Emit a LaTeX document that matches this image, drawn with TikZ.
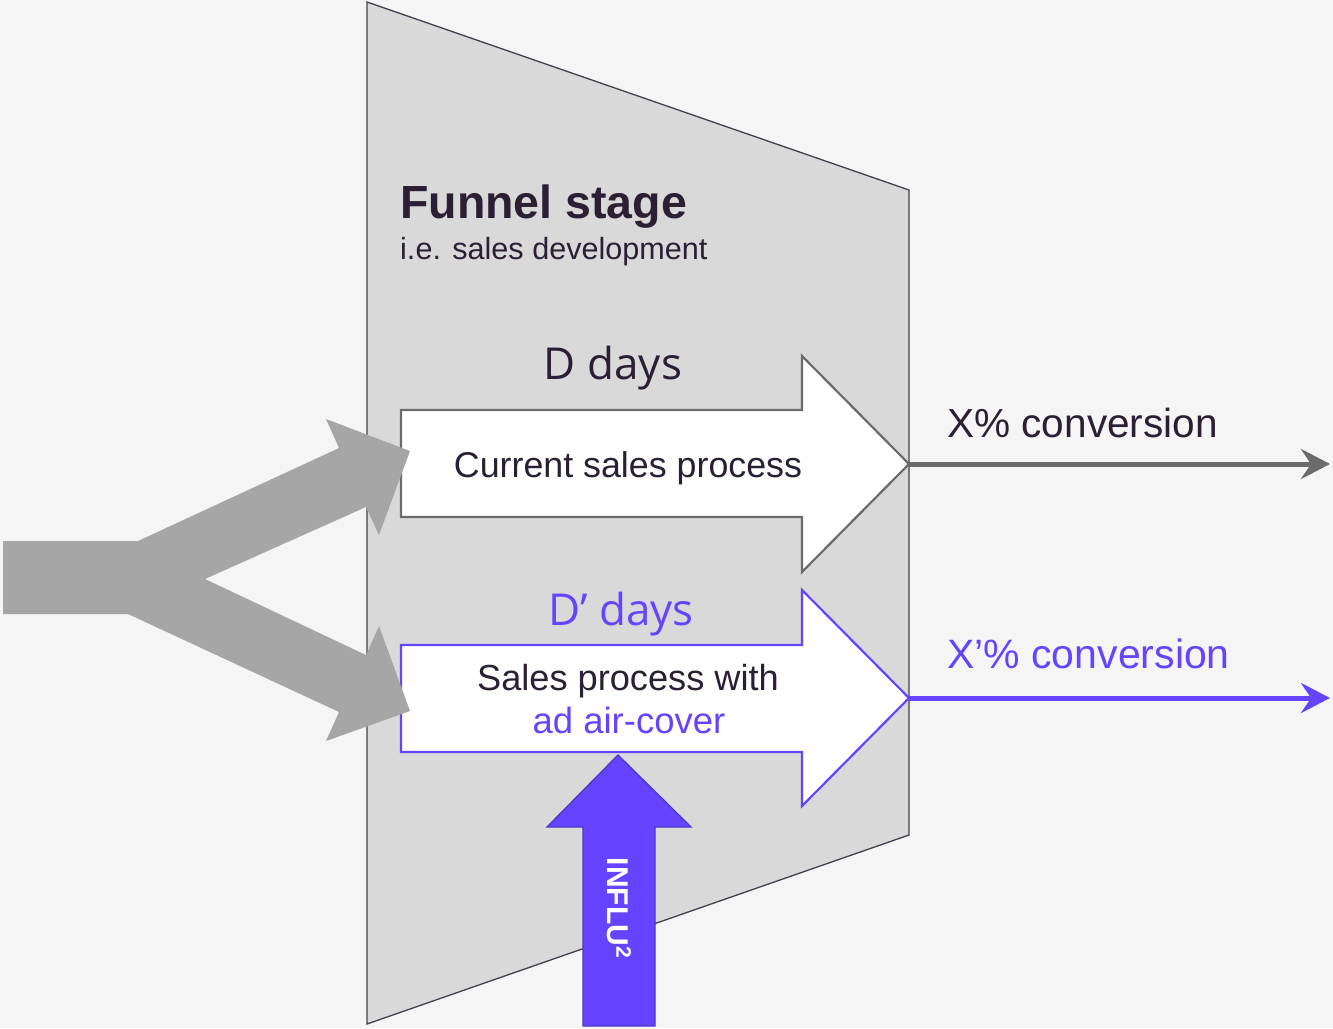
\documentclass[tikz,border=0pt]{standalone}
\usepackage{fontspec}
\setmainfont{Liberation Sans}
\newfontfamily\daysfont{Open Sans}
\usepackage{tikz}
\usetikzlibrary{arrows.meta}
\definecolor{paper}{RGB}{245, 245, 245}
\definecolor{stagegray}{RGB}{217, 217, 217}
\definecolor{stageline}{RGB}{70, 62, 78}
\definecolor{inkdark}{RGB}{43, 31, 51}
\definecolor{flowgray}{RGB}{166, 166, 166}
\definecolor{procgray}{RGB}{107, 107, 107}
\definecolor{violet}{RGB}{102, 68, 255}
\definecolor{violetdark}{RGB}{75, 56, 200}

\begin{document}
\begin{tikzpicture}[x=1pt, y=-1pt,
    outline/.style={line width=2.2pt, line join=miter, fill=white},
    outarrow/.style={line width=5pt, -{Stealth[length=29pt, width=30pt, inset=10pt]}},
    label/.style={inner sep=0pt, text=inkdark}]
            % Page
            \useasboundingbox (0, 0) rectangle (1333, 1028);
            \fill[paper]                                    (0, 0) rectangle (1333, 1028);
            % Funnel stage
            \filldraw[fill=stagegray, draw=stageline, line width=1.3pt]
                 (367, 2) -- (909, 190) -- (909, 835) -- (367, 1024) -- cycle;
            % Current process
            \draw[outline, draw=procgray]
                 (401, 410) -- (802, 410) -- (802, 356) -- (909, 464) -- (802, 572) -- (802, 517) -- (401, 517) -- cycle;
            \coordinate (curtip) at (909, 464);
            % Process with air-cover
            \draw[outline, draw=violet]
                 (401, 645) -- (802, 645) -- (802, 590) -- (909, 698) -- (802, 806) -- (802, 752) -- (401, 752) -- cycle;
            \coordinate (newtip) at (909, 698);
            % Incoming leads, split in two
            \fill[flowgray]
                 (  3, 541) -- (138, 541) -- (339, 448) -- (326, 419) -- (410, 451) -- (379, 535) -- (366, 507)
              -- (205, 579) -- (366, 655) -- (379, 626) -- (410, 711) -- (326, 741) -- (339, 712) -- (128, 614)
              -- (  3, 614) -- cycle;
            % Conversion outputs
            \coordinate (curend) at (1330, 464);
            \coordinate (newend) at (1330, 698);
            \draw[outarrow, procgray] (curtip) -- (curend);
            \draw[outarrow, violet]   (newtip) -- (newend);
            % INFLU push
            \filldraw[fill=violet, draw=violetdark, line width=1.3pt]
                 (618, 755) -- (691, 827) -- (655, 827) -- (655, 1026) -- (583, 1026) -- (583, 827) -- (547, 827) -- cycle;
            \node[rotate=-90, text=white, font=\fontsize{30}{30}\selectfont\bfseries, inner sep=0pt]
                 (influ) at (619, 908) {INFLU\textsuperscript{2}};
            % Labels
            \node[label, anchor=base west, font=\fontsize{46.5}{50}\selectfont\bfseries]
                 (stage) at (400, 218) {Funnel stage};
            \node[label, anchor=base west, font=\fontsize{30.6}{34}\selectfont]
                 (stagesub) at (400, 259) {i.e. sales development};
            \node[label, anchor=base, font=\fontsize{44}{46}\selectfont\daysfont]
                 (ddays) at (613, 379) {D days};
            \node[label, anchor=base, font=\fontsize{35.8}{38}\selectfont]
                 (curproc) at (628, 477) {Current sales process};
            \node[label, anchor=base west, font=\fontsize{40.6}{44}\selectfont]
                 (xconv) at (947, 437) {X\% conversion};
            \node[label, anchor=base, text=violet, font=\fontsize{44}{46}\selectfont\daysfont]
                 (dpdays) at (621, 625) {D’ days};
            \node[label, anchor=base, font=\fontsize{36.2}{38}\selectfont]
                 (newproc) at (628, 690) {Sales process with};
            \node[label, anchor=base, text=violet, font=\fontsize{36.5}{38}\selectfont]
                 (aircover) at (629, 733) {ad air-cover};
            \node[label, anchor=base west, text=violet, font=\fontsize{41}{44}\selectfont]
                 (xpconv) at (947, 668) {X'\% conversion};
        \end{tikzpicture}
\end{document}
